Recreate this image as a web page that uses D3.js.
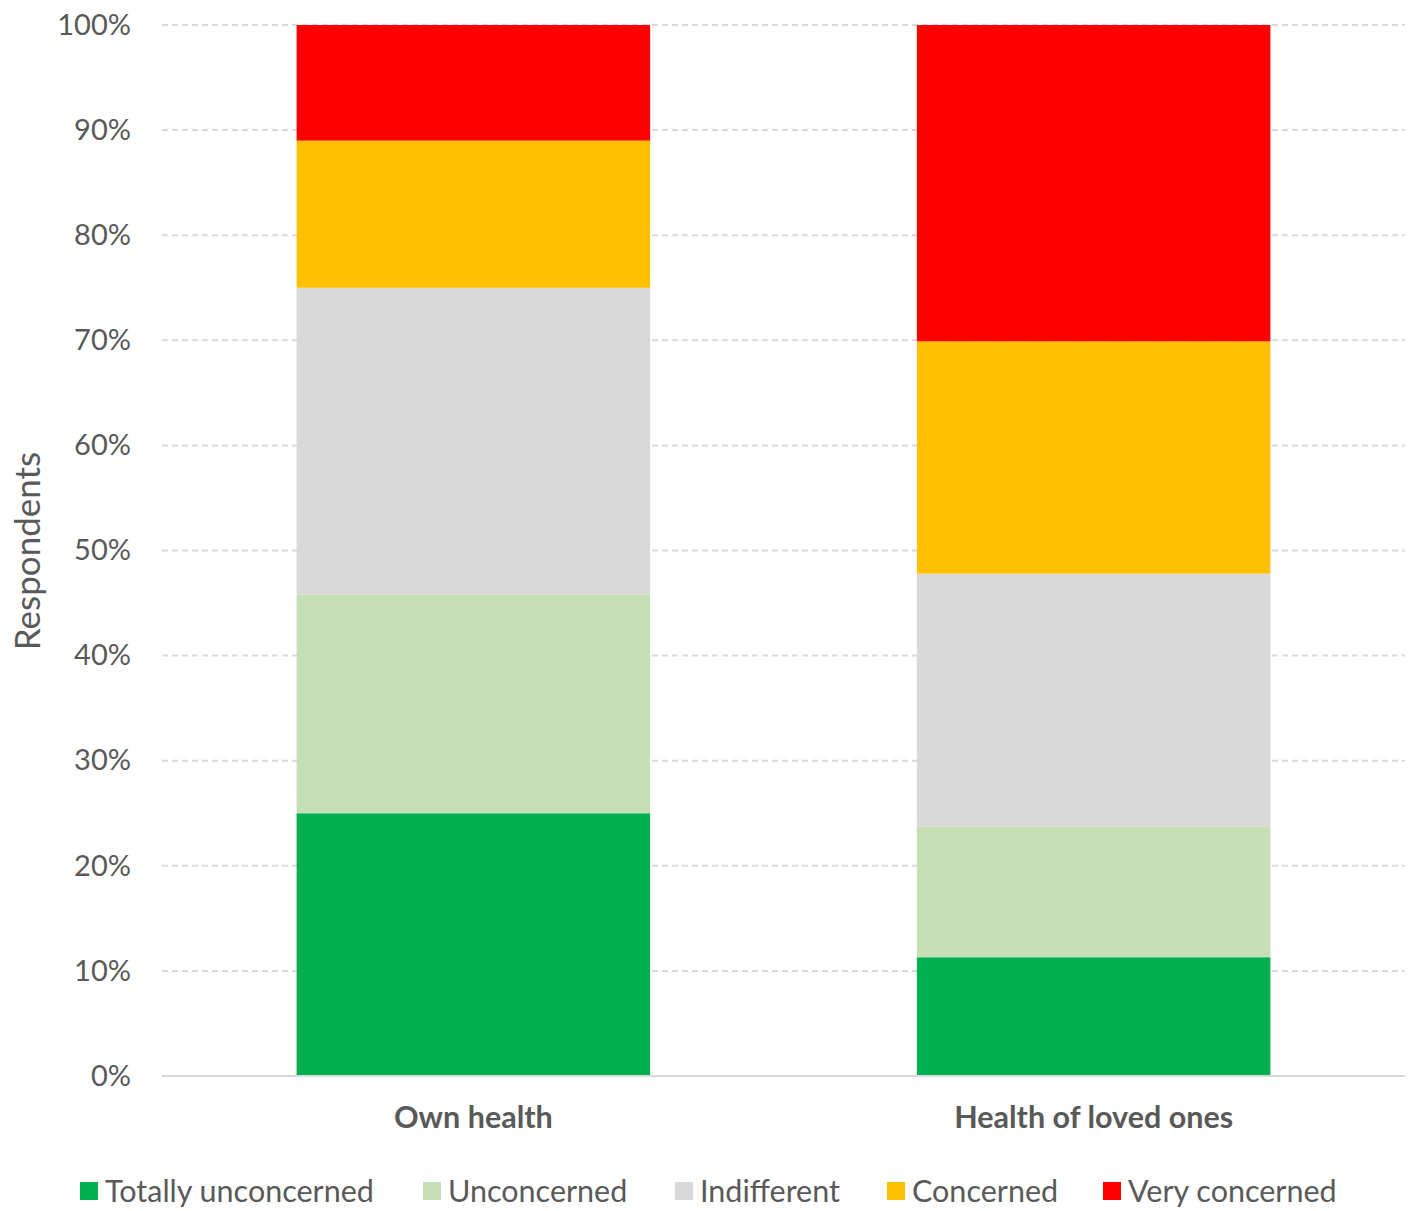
<!DOCTYPE html>
<html><head><meta charset="utf-8">
<script src="https://cdn.jsdelivr.net/npm/d3@7"></script>
<style>body{margin:0;background:#fff}svg{display:block}text{font-family:Lato,"Open Sans",sans-serif}</style>
</head><body><svg id="c" width="1413" height="1211"></svg>
<script>
const categories = ["Own health", "Health of loved ones"];
const seriesNames = ["Totally unconcerned", "Unconcerned", "Indifferent", "Concerned", "Very concerned"];
const seriesColors = ["#00b050", "#c5e0b4", "#d9d9d9", "#ffc000", "#ff0000"];
const totallyUnconcerned = [25.0, 11.3];
const unconcerned = [20.8, 12.4];
const indifferent = [29.2, 24.1];
const concerned = [14.0, 22.1];
const veryConcerned = [11.0, 30.1];
const yTicks = [0,10,20,30,40,50,60,70,80,90,100];
const yAxisTitle = "Respondents";

const seriesValues = [totallyUnconcerned, unconcerned, indifferent, concerned, veryConcerned];
const rows = categories.map((c,i)=>{const r={cat:c}; seriesNames.forEach((s,j)=>r[s]=seriesValues[j][i]); return r;});
const stack = d3.stack().keys(seriesNames)(rows);

const svg = d3.select("#c");
const L=162, R=1405, T=25, B=1076;
const x = d3.scaleBand().domain(categories).range([L,R]).paddingInner(0.43).paddingOuter(0.217);
const y = d3.scaleLinear().domain([0,100]).range([B,T]);

// grid
svg.append("g").selectAll("line").data(yTicks.filter(t=>t>0)).join("line")
  .attr("x1",L).attr("x2",R).attr("y1",d=>y(d)).attr("y2",d=>y(d))
  .attr("stroke","#d9d9d9").attr("stroke-width",2).attr("stroke-dasharray","6,4");

// bars
svg.append("g").selectAll("g").data(stack).join("g").attr("fill",(d,i)=>seriesColors[i])
  .selectAll("rect").data(d=>d).join("rect")
  .attr("x",d=>x(d.data.cat)).attr("width",x.bandwidth())
  .attr("y",d=>y(Math.min(d[1],100))).attr("height",d=>y(d[0])-y(Math.min(d[1],100)));

// axis line
svg.append("line").attr("x1",L).attr("x2",R).attr("y1",B).attr("y2",B).attr("stroke","#d9d9d9").attr("stroke-width",2);

// y labels
const ya = svg.append("g").attr("transform",`translate(131,0)`).call(d3.axisLeft(y).tickValues(yTicks).tickFormat(d=>d+"%").tickSize(0).tickPadding(0));
ya.select(".domain").remove();
ya.selectAll("text").attr("font-family","Lato, sans-serif").attr("font-size",29).attr("fill","#595959");

// x labels
const xa = svg.append("g").attr("transform",`translate(0,${B})`).call(d3.axisBottom(x).tickSize(0).tickPadding(30));
xa.select(".domain").remove();
xa.selectAll("text").attr("font-family","Lato, sans-serif").attr("font-size",30.5).attr("font-weight","bold").attr("fill","#595959");

// y title
svg.append("text").attr("transform","translate(40,551) rotate(-90)").attr("text-anchor","middle")
  .attr("font-size",35).attr("fill","#595959").text(yAxisTitle);

// legend
const legX = [80, 423, 675, 887, 1103];
const lg = svg.append("g").selectAll("g").data(seriesNames).join("g").attr("transform",(d,i)=>`translate(${legX[i]},1182)`);
lg.append("rect").attr("width",18).attr("height",18).attr("fill",(d,i)=>seriesColors[i]);
lg.append("text").attr("x",25).attr("y",20).attr("font-size",30.5).attr("fill","#595959").text(d=>d);
</script></body></html>
